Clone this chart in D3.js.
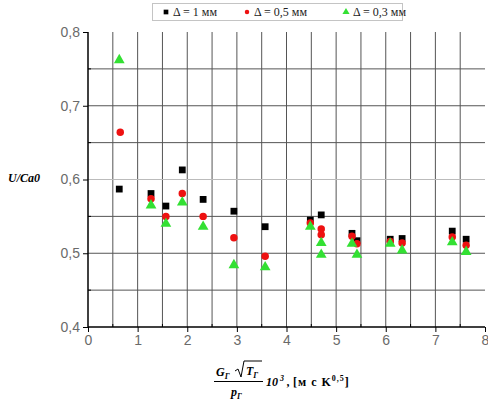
<!DOCTYPE html>
<html>
<head>
<meta charset="utf-8">
<script src="https://cdn.jsdelivr.net/npm/d3@7"></script>
<style>
  body { margin: 0; background: #fff; }
  svg { display: block; }
  .tick text { font-family: "Liberation Sans", Arial, sans-serif; font-size: 14px; fill: #6a6a6a; }
  .lbl { font-family: "Liberation Serif", "Times New Roman", serif; font-style: italic; font-weight: bold; }
</style>
</head>
<body>
<svg width="488" height="405"></svg>
<script>
// data
var seriesNames = ["\u0394 = 1 \u043c\u043c", "\u0394 = 0,5 \u043c\u043c", "\u0394 = 0,3 \u043c\u043c"];

var sqX = [0.63, 1.27, 1.57, 1.90, 2.32, 2.94, 3.57, 4.48, 4.70, 5.32, 5.42, 6.09, 6.33, 7.34, 7.62];
var sqY = [0.587, 0.581, 0.564, 0.613, 0.573, 0.557, 0.536, 0.545, 0.552, 0.527, 0.517, 0.519, 0.520, 0.530, 0.519];

var ciX = [0.65, 1.27, 1.57, 1.90, 2.32, 2.94, 3.57, 4.48, 4.70, 4.70, 5.32, 5.42, 6.09, 6.33, 7.34, 7.62];
var ciY = [0.664, 0.574, 0.550, 0.581, 0.550, 0.521, 0.496, 0.541, 0.533, 0.525, 0.523, 0.513, 0.516, 0.514, 0.522, 0.511];

var trX = [0.63, 1.27, 1.57, 1.90, 2.32, 2.94, 3.57, 4.48, 4.70, 4.70, 5.32, 5.42, 6.09, 6.33, 7.34, 7.62];
var trY = [0.762, 0.565, 0.540, 0.569, 0.536, 0.484, 0.481, 0.536, 0.514, 0.498, 0.513, 0.498, 0.513, 0.504, 0.515, 0.502];

var xTicks = [0, 1, 2, 3, 4, 5, 6, 7, 8];
var yTicks = [0.4, 0.5, 0.6, 0.7, 0.8];

var svg = d3.select("svg");

var x = d3.scaleLinear().domain([0, 8]).range([88, 485]);
var y = d3.scaleLinear().domain([0.4, 0.8]).range([327, 32]);

// grid
var vGrid = d3.range(0.5, 8, 0.5);
var hGrid = d3.range(0.45, 0.79, 0.05);

svg.append("g").selectAll("line")
    .data(vGrid)
    .enter().append("line")
    .attr("x1", function (d) { return x(d); })
    .attr("x2", function (d) { return x(d); })
    .attr("y1", y(0.8))
    .attr("y2", y(0.4))
    .attr("stroke", "#555")
    .attr("stroke-width", 1);

svg.append("g").selectAll("line")
    .data(hGrid)
    .enter().append("line")
    .attr("x1", x(0))
    .attr("x2", x(8))
    .attr("y1", function (d) { return y(d); })
    .attr("y2", function (d) { return y(d); })
    .attr("stroke", function (d) { return Math.abs(d - 0.6) < 0.001 ? "#bbb" : "#555"; })
    .attr("stroke-width", 1);

// axes
var fmt = function (d) { return d3.format(".1f")(d).replace(".", ","); };

var xAxis = svg.append("g")
    .attr("transform", "translate(0," + y(0.4) + ")")
    .call(d3.axisBottom(x).tickValues(xTicks).tickFormat(d3.format("d")).tickSize(5).tickPadding(3));
xAxis.select(".domain").attr("stroke-width", 1.5).attr("d", "M" + x(0) + ",0H" + x(8));

svg.append("g")
    .attr("transform", "translate(0," + y(0.4) + ")")
    .selectAll("line")
    .data(d3.range(0.5, 8.1, 1))
    .enter().append("line")
    .attr("x1", function (d) { return x(d); })
    .attr("x2", function (d) { return x(d); })
    .attr("y1", 0).attr("y2", -3)
    .attr("stroke", "#000");

var yAxis = svg.append("g")
    .attr("transform", "translate(" + x(0) + ",0)")
    .call(d3.axisLeft(y).tickValues(yTicks).tickFormat(fmt).tickSize(5).tickPadding(3));
yAxis.select(".domain").attr("stroke-width", 1.5).attr("d", "M0," + y(0.8) + "V" + y(0.4));

svg.append("g")
    .attr("transform", "translate(" + x(0) + ",0)")
    .selectAll("line")
    .data(d3.range(0.45, 0.8, 0.1))
    .enter().append("line")
    .attr("x1", 0).attr("x2", 3)
    .attr("y1", function (d) { return y(d); })
    .attr("y2", function (d) { return y(d); })
    .attr("stroke", "#000");

// markers
var sq = d3.symbol().type(d3.symbolSquare).size(46);
var ci = d3.symbol().type(d3.symbolCircle).size(44);
var tr = d3.symbol().type(d3.symbolTriangle).size(50);

svg.append("g").selectAll("path")
    .data(d3.zip(sqX, sqY))
    .enter().append("path")
    .attr("d", sq)
    .attr("transform", function (d) { return "translate(" + x(d[0]) + "," + y(d[1]) + ")"; })
    .attr("fill", "#000");

svg.append("g").selectAll("path")
    .data(d3.zip(ciX, ciY))
    .enter().append("path")
    .attr("d", ci)
    .attr("transform", function (d) { return "translate(" + x(d[0]) + "," + y(d[1]) + ")"; })
    .attr("fill", "#ee1111");

svg.append("g").selectAll("path")
    .data(d3.zip(trX, trY))
    .enter().append("path")
    .attr("d", tr)
    .attr("transform", function (d) { return "translate(" + x(d[0]) + "," + y(d[1]) + ")"; })
    .attr("fill", "#33e033");

// legend
var legend = svg.append("g");
legend.append("rect")
    .attr("x", 152.5).attr("y", 3.5)
    .attr("width", 250).attr("height", 17)
    .attr("fill", "none")
    .attr("stroke", "#888")
    .attr("stroke-dasharray", "1,1");

var legX = [166, 247, 346];
var legShapes = [d3.symbol().type(d3.symbolSquare).size(22), d3.symbol().type(d3.symbolCircle).size(16), d3.symbol().type(d3.symbolTriangle).size(22)];
var legColors = ["#000", "#ee1111", "#33e033"];

legX.forEach(function (lx, i) {
    legend.append("path")
        .attr("d", legShapes[i])
        .attr("transform", "translate(" + lx + ",12)")
        .attr("fill", legColors[i]);
    legend.append("text")
        .attr("x", lx + 7).attr("y", 16)
        .attr("font-family", "Liberation Serif, Times New Roman, serif")
        .attr("font-size", 12)
        .attr("fill", "#222")
        .text(seriesNames[i]);
});

// y label
svg.append("text")
    .attr("class", "lbl")
    .attr("x", 8).attr("y", 182)
    .attr("font-size", 12)
    .text("U/Ca0");

// x label: fraction + multiplier + units
var xl = svg.append("g").attr("class", "lbl").attr("font-size", 12);
var num = xl.append("text").attr("x", 216).attr("y", 376);
num.append("tspan").text("G");
num.append("tspan").attr("font-size", 8).attr("dy", 3).text("\u0413");
xl.append("path")
    .attr("d", "M235,371 L238,369 L241,377 L244,361 L262,361")
    .attr("fill", "none").attr("stroke", "#000").attr("stroke-width", 1);
var rt = xl.append("text").attr("x", 246).attr("y", 375);
rt.append("tspan").text("T");
rt.append("tspan").attr("font-size", 8).attr("dy", 3).text("\u0413");
xl.append("line")
    .attr("x1", 214).attr("x2", 263)
    .attr("y1", 381.5).attr("y2", 381.5)
    .attr("stroke", "#000").attr("stroke-width", 1);
var den = xl.append("text").attr("x", 231).attr("y", 396);
den.append("tspan").text("p");
den.append("tspan").attr("font-size", 8).attr("dy", 3).text("\u0413");

var mul = xl.append("text").attr("x", 266).attr("y", 386);
mul.append("tspan").text("10");
mul.append("tspan").attr("font-size", 8).attr("dx", 2).attr("dy", -5).text("3");
mul.append("tspan").attr("dy", 5).text(" ,");

var units = svg.append("text")
    .attr("x", 293).attr("y", 386)
    .attr("font-family", "Liberation Serif, Times New Roman, serif")
    .attr("font-weight", "bold")
    .attr("font-size", 12)
    .attr("letter-spacing", 1);
units.append("tspan").text("[\u043c \u0441 K");
units.append("tspan").attr("font-size", 8).attr("dy", -5).text("0,5");
units.append("tspan").attr("dy", 5).text("]");
</script>
</body>
</html>
